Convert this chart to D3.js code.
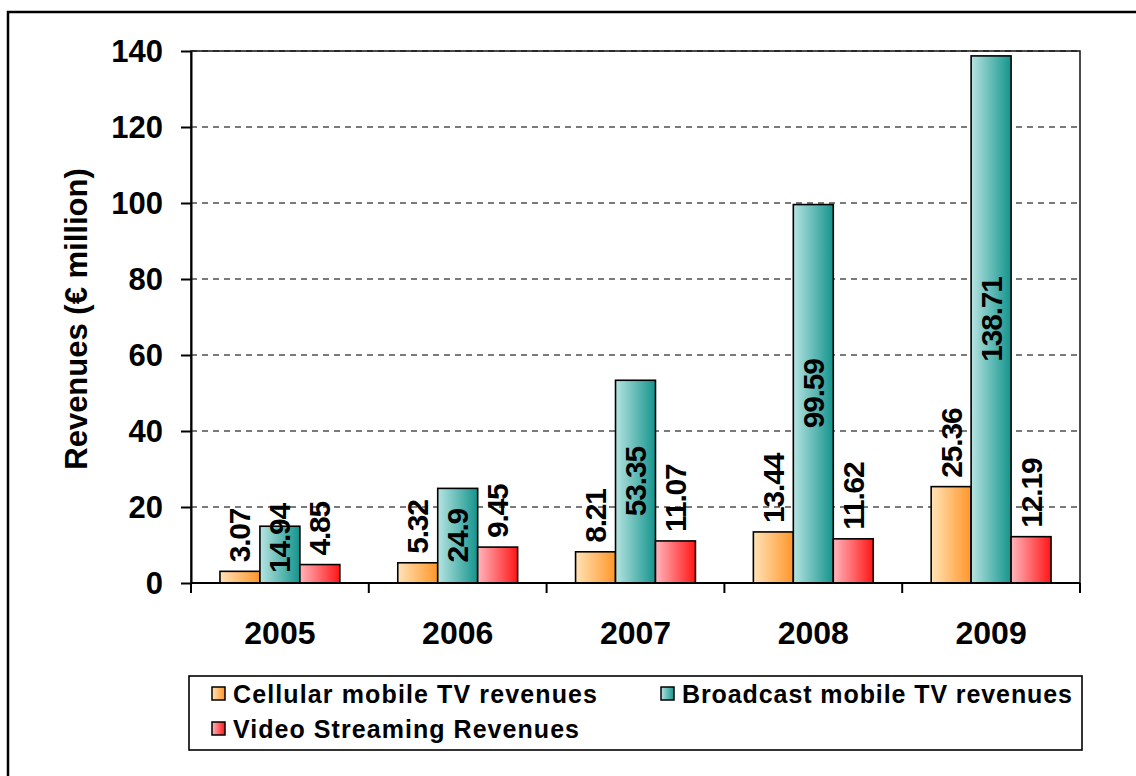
<!DOCTYPE html>
<html>
<head>
<meta charset="utf-8">
<script src="https://cdn.jsdelivr.net/npm/d3@7"></script>
<style>
  html, body { margin: 0; padding: 0; background: #fff; }
  svg { display: block; font-family: "Liberation Sans", Arial, Helvetica, sans-serif; font-weight: bold; }
</style>
</head>
<body>
<svg id="chart" width="1136" height="776"></svg>
<script>
// Mobile TV revenue by year, three revenue streams
const years = ["2005", "2006", "2007", "2008", "2009"];
const seriesNames = ["Cellular mobile TV revenues", "Broadcast mobile TV revenues", "Video Streaming Revenues"];
const cellular = [3.07, 5.32, 8.21, 13.44, 25.36];
const broadcast = [14.94, 24.9, 53.35, 99.59, 138.71];
const streaming = [4.85, 9.45, 11.07, 11.62, 12.19];
const yTicks = [0, 20, 40, 60, 80, 100, 120, 140];
const yTitle = "Revenues (\u20ac million)";

const seriesValues = [cellular, broadcast, streaming];
const gradients = [
  { id: "g-cell", from: "#ffe3b6", to: "#ff962a" },
  { id: "g-broad", from: "#b6e4e2", to: "#14948c" },
  { id: "g-stream", from: "#ffb6bd", to: "#ff1616" }
];

const svg = d3.select("#chart");
const defs = svg.append("defs");
gradients.forEach(g => {
  const lg = defs.append("linearGradient").attr("id", g.id)
    .attr("x1", "0%").attr("y1", "0%").attr("x2", "100%").attr("y2", "0%");
  lg.append("stop").attr("offset", "0%").attr("stop-color", g.from);
  lg.append("stop").attr("offset", "100%").attr("stop-color", g.to);
});

// outer frame
svg.append("rect").attr("x", 8).attr("y", 12).attr("width", 1140).attr("height", 800)
  .attr("fill", "none").attr("stroke", "#000").attr("stroke-width", 2.5);

const plot = { left: 191, right: 1080, top: 51, bottom: 583 };

const x0 = d3.scaleBand().domain(years).range([plot.left, plot.right]).padding(0);
const x1 = d3.scaleBand().domain(d3.range(3)).range([0, x0.bandwidth()])
  .paddingInner(0).paddingOuter(0.725);
const y = d3.scaleLinear().domain([0, 140]).range([plot.bottom, plot.top]);

// dashed gridlines
svg.append("g").selectAll("line").data(yTicks.filter(t => t > 0)).join("line")
  .attr("x1", plot.left).attr("x2", plot.right)
  .attr("y1", d => y(d)).attr("y2", d => y(d))
  .attr("stroke", "#7a7a7a").attr("stroke-width", 2.2).attr("stroke-dasharray", "6,5");

// plot area border
svg.append("rect").attr("x", plot.left).attr("y", plot.top)
  .attr("width", plot.right - plot.left).attr("height", plot.bottom - plot.top)
  .attr("fill", "none").attr("stroke", "#111").attr("stroke-width", 1.5);

// bars
const groups = svg.append("g").selectAll("g").data(years).join("g")
  .attr("transform", d => `translate(${x0(d)},0)`);

groups.selectAll("rect").data((d, i) => seriesValues.map((s, k) => ({ k, v: s[i] }))).join("rect")
  .attr("x", d => x1(d.k)).attr("width", x1.bandwidth())
  .attr("y", d => y(d.v)).attr("height", d => y(0) - y(d.v))
  .attr("fill", d => `url(#${gradients[d.k].id})`)
  .attr("stroke", "#000").attr("stroke-width", 1.6);

// value labels (rotated)
groups.each(function(year, i) {
  const g = d3.select(this);
  seriesValues.forEach((s, k) => {
    const v = s[i];
    const cx = x1(k) + x1.bandwidth() / 2;
    const t = g.append("text")
      .attr("font-size", 30).attr("letter-spacing", -1.2)
      .attr("dy", "0.35em").attr("fill", "#000")
      .text(String(v));
    if (k === 1) {
      const len = t.node().getComputedTextLength();
      let cy = (y(v) + y(0)) / 2;
      cy = Math.min(cy, y(0) - 10 - len / 2);
      t.attr("text-anchor", "middle")
        .attr("transform", `translate(${cx},${cy}) rotate(-90)`);
    } else {
      t.attr("text-anchor", "start")
        .attr("transform", `translate(${cx},${y(v) - 9}) rotate(-90)`);
    }
  });
});

// y axis
const yAxis = svg.append("g").attr("transform", `translate(${plot.left},0)`)
  .call(d3.axisLeft(y).tickValues(yTicks).tickSize(10).tickSizeOuter(0).tickPadding(18));
yAxis.select(".domain").attr("stroke", "#000").attr("stroke-width", 2);
yAxis.selectAll(".tick line").attr("stroke", "#000").attr("stroke-width", 2);
yAxis.selectAll(".tick text").attr("font-size", 31).attr("font-family", null)
  .attr("font-weight", "bold").attr("fill", "#000").attr("dy", "0.35em");

// x axis: baseline, boundary ticks, centred year labels
const xAxis = svg.append("g");
xAxis.append("line").attr("x1", plot.left).attr("x2", plot.right)
  .attr("y1", y(0)).attr("y2", y(0)).attr("stroke", "#000").attr("stroke-width", 2);
const bounds = years.map(d => x0(d)).concat([x0.range()[1]]);
xAxis.selectAll("line.tk").data(bounds).join("line").attr("class", "tk")
  .attr("x1", d => d).attr("x2", d => d).attr("y1", y(0)).attr("y2", y(0) + 10)
  .attr("stroke", "#000").attr("stroke-width", 2);
const xLabels = svg.append("g").attr("transform", `translate(0,${y(0)})`)
  .call(d3.axisBottom(x0).tickSize(0).tickPadding(0));
xLabels.select(".domain").remove();
xLabels.selectAll(".tick text").attr("font-size", 32).attr("font-family", null)
  .attr("font-weight", "bold").attr("fill", "#000").attr("dy", null).attr("y", 61);

// y title
svg.append("text").attr("transform", "translate(87,319) rotate(-90)")
  .attr("text-anchor", "middle").attr("font-size", 31).attr("fill", "#000")
  .text(yTitle);

// legend
const legend = svg.append("g");
legend.append("rect").attr("x", 189).attr("y", 676).attr("width", 893).attr("height", 74)
  .attr("fill", "#fff").attr("stroke", "#000").attr("stroke-width", 1.6);
const legendPos = [{ x: 212, y: 687 }, { x: 661, y: 687 }, { x: 212, y: 722 }];
const legendLen = [364, 390, 346];
seriesNames.forEach((name, k) => {
  const p = legendPos[k];
  legend.append("rect").attr("x", p.x).attr("y", p.y).attr("width", 13).attr("height", 13)
    .attr("fill", `url(#${gradients[k].id})`).attr("stroke", "#000").attr("stroke-width", 1.5);
  legend.append("text").attr("x", p.x + 21).attr("y", p.y + 16)
    .attr("font-size", 25).attr("fill", "#000")
    .attr("textLength", legendLen[k]).attr("lengthAdjust", "spacing")
    .text(name);
});
</script>
</body>
</html>
